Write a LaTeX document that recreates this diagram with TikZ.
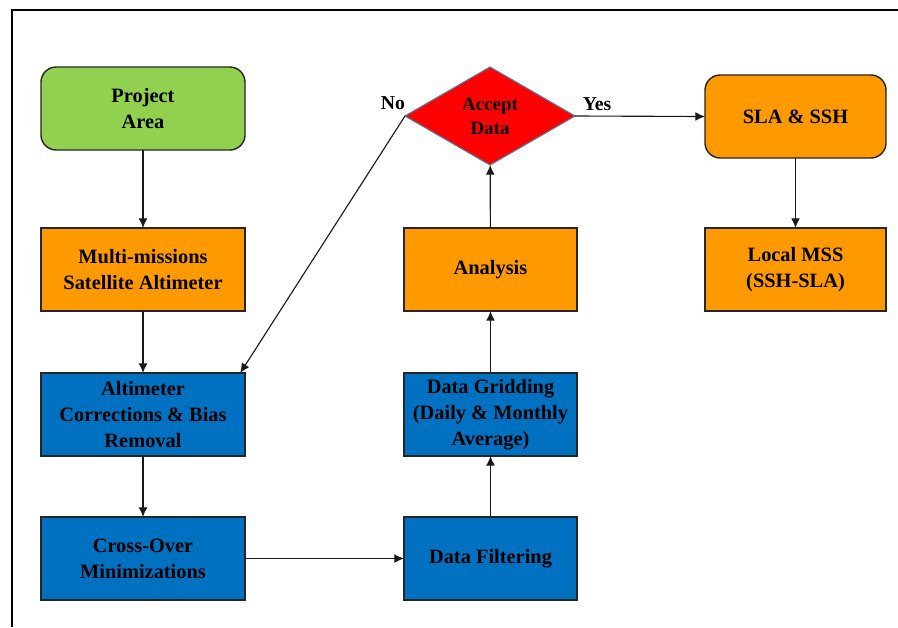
\documentclass[tikz,border=0pt]{standalone}
\usepackage{fontspec}
\setmainfont{Liberation Serif}
\usetikzlibrary{shapes.geometric,arrows.meta}

\definecolor{areagreen}{HTML}{92D050}
\definecolor{steporange}{HTML}{FF9900}
\definecolor{stepblue}{HTML}{0070C0}
\definecolor{rimgray}{HTML}{5A7BA0}

\begin{document}
\begin{tikzpicture}[x=0.025cm, y=-0.025cm]
\tikzset{ >={Latex[length=2.4mm,width=2.2mm]}, inner sep=0pt, outer sep=0pt,
  box/.style={draw=black!85, line width=1pt, align=center,
    font=\fontsize{14.5}{18.5}\selectfont\bfseries,
    minimum width=5.1cm, minimum height=2.075cm},
  narrow/.style={minimum width=4.325cm},
  wide/.style={minimum width=4.525cm},
  soft/.style={rounded corners=0.38cm},
  flow/.style={->, line width=0.8pt, black!90},
}

\useasboundingbox (0,0) rectangle (898,627);
\draw [line width=1.2pt] (12,627) -- (12,10) -- (898,10);

\node [box, soft, fill=areagreen]  (area)  at (143,108.5) {Project\\Area};
\node [box, fill=steporange]       (sat)   at (143,269.5) {Multi-missions\\Satellite Altimeter};
\node [box, fill=stepblue]         (corr)  at (143,414.5) {Altimeter\\Corrections \& Bias\\Removal};
\node [box, fill=stepblue]         (cross) at (143,558.5) {Cross-Over\\Minimizations};

\node [box, narrow, fill=stepblue]   (filter) at (490.5,558.5) {Data Filtering};
\node [box, narrow, fill=stepblue]   (grid)   at (490.5,414.5) {Data Gridding\\(Daily \& Monthly\\Average)};
\node [box, narrow, fill=steporange] (anal)   at (490.5,269.5) {Analysis};

\node [diamond, draw=rimgray, line width=0.8pt, fill=red, align=center,
       minimum width=4.25cm, minimum height=2.45cm,
       font=\fontsize{13.5}{17}\selectfont\bfseries] (accept) at (490,116) {Accept\\Data};

\node [box, wide, soft, fill=steporange] (sla) at (795.5,116.5) {SLA \& SSH};
\node [box, wide, fill=steporange]       (mss) at (795.5,269.5) {Local MSS\\(SSH-SLA)};

\draw [flow] (area)  -- (sat);
\draw [flow] (sat)   -- (corr);
\draw [flow] (corr)  -- (cross);
\draw [flow] (cross) -- (filter);
\draw [flow] (filter) -- (grid);
\draw [flow] (grid)  -- (anal);
\draw [flow] (anal)  -- (accept);
\draw [flow] (accept.east) -- (sla.west);
\draw [flow] (sla)   -- (mss);
\draw [flow] (accept.west) -- ([xshift=-0.12cm]corr.north east);

\node [font=\fontsize{14}{16}\selectfont\bfseries] (no)  at (393,103) {No};
\node [font=\fontsize{14}{16}\selectfont\bfseries] (yes) at (597,104) {Yes};
\end{tikzpicture}
\end{document}
